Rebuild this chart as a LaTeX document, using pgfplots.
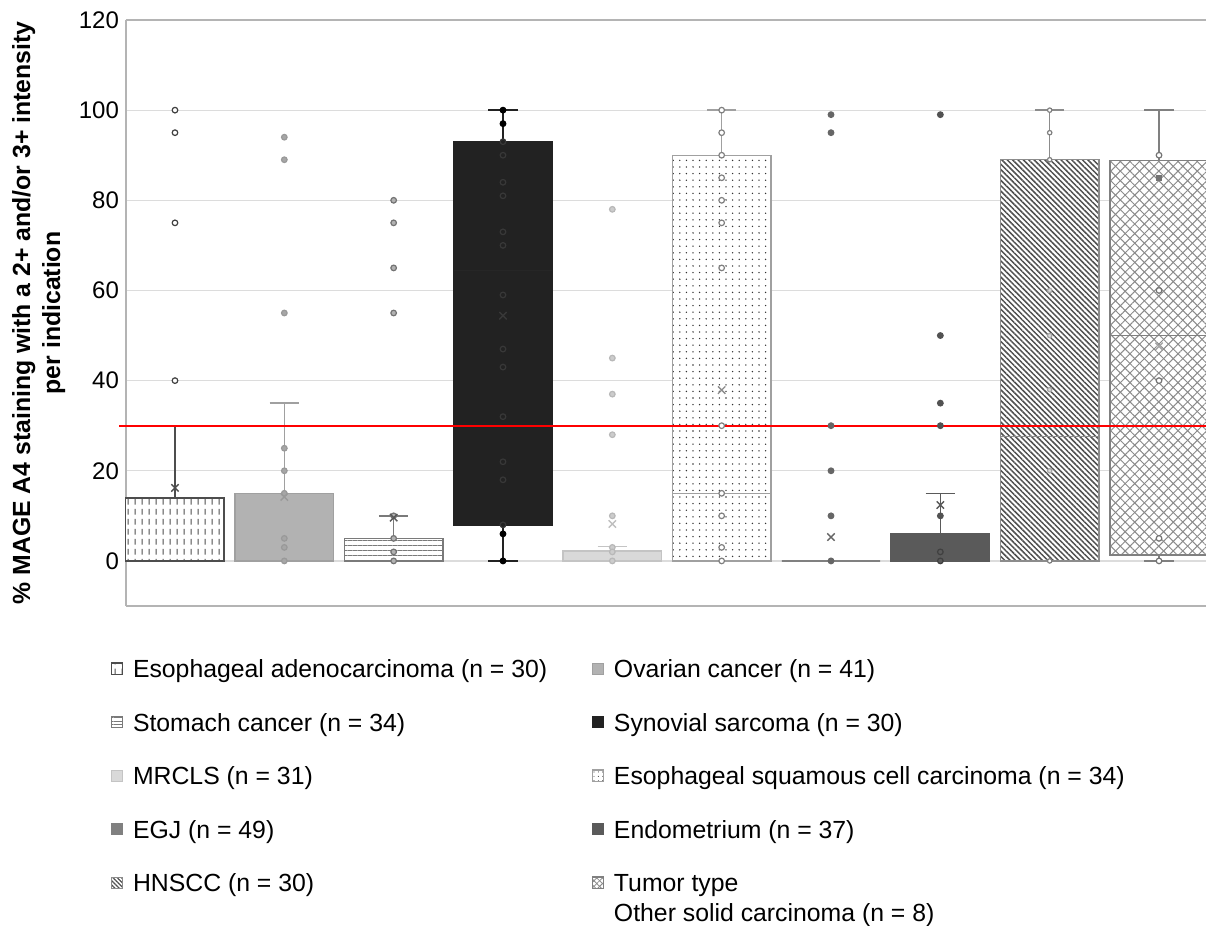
\documentclass[border=0pt]{standalone}
\usepackage{fontspec}
\setmainfont{Liberation Sans}
\usepackage{pgfplots}
\pgfplotsset{compat=1.18}
\usepgfplotslibrary{statistics}
\usetikzlibrary{patterns.meta}

\definecolor{axisgray}{HTML}{B4B4B4}
\definecolor{gridgray}{HTML}{DCDCDC}
\definecolor{cA}{HTML}{4D4D4D}
\definecolor{cB}{HTML}{B2B2B2}
\definecolor{cBd}{HTML}{A0A0A0}
\definecolor{cC}{HTML}{7A7A7A}
\definecolor{cD}{HTML}{222222}
\definecolor{cE}{HTML}{D9D9D9}
\definecolor{cEd}{HTML}{C4C4C4}
\definecolor{cF}{HTML}{A0A0A0}
\definecolor{cG}{HTML}{808080}
\definecolor{cH}{HTML}{5A5A5A}
\definecolor{cI}{HTML}{8C8C8C}
\definecolor{cIp}{HTML}{505050}
\definecolor{cJ}{HTML}{808080}
\definecolor{cJp}{HTML}{8A8A8A}

\pgfdeclarepattern{
  name=vdash,
  type=uncolored,
  bottom left={\pgfpoint{0pt}{0pt}},
  top right={\pgfpoint{3.3pt}{5pt}},
  tile size={\pgfpoint{3.3pt}{5pt}},
  code={
    \pgfsetlinewidth{0.6pt}
    \pgfpathmoveto{\pgfpoint{1.65pt}{0.8pt}}
    \pgfpathlineto{\pgfpoint{1.65pt}{3.8pt}}
    \pgfusepath{stroke}
  }
}

\pgfplotsset{
  pts/.style={only marks, mark=*, mark size=1.4pt, forget plot, line width=0.6pt},
  meanx/.style={only marks, mark=x, mark size=2.6pt, forget plot, line width=0.7pt},
  boxplot/draw direction=y,
}
\newcommand{\Lcol}[1]{\makebox[227.5pt][l]{\strut #1}}
\newcommand{\Rcol}[1]{\strut #1}

\begin{document}
\begin{tikzpicture}
\begin{axis}[
  name=ax,
  scale only axis, width=541pt, height=293pt,
  xmin=0.552, xmax=10.448, ymin=-10, ymax=120,
  axis x line*=box, axis y line*=left,
  axis line style={draw=axisgray, line width=0.8pt, -},
  xtick=\empty,
  ytick={0,20,40,60,80,100,120},
  major tick length=0pt,
  ymajorgrids, grid style={draw=gridgray, line width=0.6pt},
  yticklabel style={font=\fontsize{12}{14}\selectfont},
  /pgf/number format/assume math mode=true,
  ylabel={\% MAGE A4 staining with a 2+ and/or 3+ intensity\\per indication},
  ylabel style={font=\bfseries\fontsize{12.4}{15}\selectfont, align=center},
  clip=false,
  legend image code/.code={\draw[#1] (0pt,-2.8pt) rectangle (5.6pt,2.8pt);},
  legend columns=2,
  legend cell align=left,
  legend style={draw=none, fill=none, at={(0,0)}, anchor=north west,
    xshift=-7.5pt, yshift=-23.3pt, inner sep=0pt, outer sep=0pt,
    row sep=10.75pt, font=\fontsize{12.4}{15}\selectfont,
    /tikz/every even column/.append style={column sep=0pt},
    /tikz/every odd column/.append style={column sep=2.8pt}},
]
% ---- boxes ----
\addplot[draw=cA, line width=0.7pt, forget plot,
  boxplot prepared={draw position=1, lower whisker=0, lower quartile=0, median=0,
    upper quartile=14, upper whisker=30, box extend=0.9, whisker extend=0.27,
    every box/.style={fill=white, postaction={pattern=vdash, pattern color=cA}}}]
  coordinates {};
\addplot[draw=cBd, line width=0.7pt, forget plot,
  boxplot prepared={draw position=2, lower whisker=0, lower quartile=0, median=0,
    upper quartile=15, upper whisker=35, box extend=0.9, whisker extend=0.27,
    every box/.style={fill=cB}}]
  coordinates {};
\addplot[draw=cC, line width=0.7pt, forget plot,
  boxplot prepared={draw position=3, lower whisker=0, lower quartile=0, median=0,
    upper quartile=5, upper whisker=10, box extend=0.9, whisker extend=0.27,
    every box/.style={fill=white, postaction={pattern={Lines[angle=0, distance=2.5pt, line width=0.5pt]}, pattern color=cC}}}]
  coordinates {};
\addplot[draw=cD, line width=0.7pt, forget plot,
  boxplot prepared={draw position=4, lower whisker=0, lower quartile=8, median=64.5,
    upper quartile=93, upper whisker=100, box extend=0.9, whisker extend=0.27,
    every box/.style={fill=cD},
    every median/.style={draw=black!85, line width=0.5pt}}]
  coordinates {};
\addplot[draw=cEd, line width=0.7pt, forget plot,
  boxplot prepared={draw position=5, lower whisker=0, lower quartile=0, median=0,
    upper quartile=2.2, upper whisker=3.2, box extend=0.9, whisker extend=0.27,
    every box/.style={fill=cE}}]
  coordinates {};
\addplot[draw=cF, line width=0.7pt, forget plot,
  boxplot prepared={draw position=6, lower whisker=0, lower quartile=0, median=15,
    upper quartile=90, upper whisker=100, box extend=0.9, whisker extend=0.27,
    every box/.style={fill=white, postaction={pattern={Dots[distance=3.3pt, radius=0.38pt]}, pattern color=black!80}}}]
  coordinates {};
\addplot[draw=cG, line width=0.8pt, forget plot,
  boxplot prepared={draw position=7, lower whisker=0, lower quartile=0, median=0,
    upper quartile=0, upper whisker=0, box extend=0.9, whisker extend=0.27,
    every box/.style={fill=cG}}]
  coordinates {};
\addplot[draw=cH, line width=0.7pt, forget plot,
  boxplot prepared={draw position=8, lower whisker=0, lower quartile=0, median=0,
    upper quartile=6, upper whisker=15, box extend=0.9, whisker extend=0.27,
    every box/.style={fill=cH}}]
  coordinates {};
\addplot[draw=cI, line width=0.7pt, forget plot,
  boxplot prepared={draw position=9, lower whisker=0, lower quartile=0, median=27.6,
    upper quartile=89, upper whisker=100, box extend=0.9, whisker extend=0.27,
    every box/.style={fill=white, postaction={pattern={Lines[angle=-45, distance=1.9pt, line width=0.75pt]}, pattern color=cIp}}}]
  coordinates {};
\addplot[draw=cJ, line width=0.7pt, forget plot,
  boxplot prepared={draw position=10, lower whisker=0, lower quartile=1.3, median=50,
    upper quartile=88.8, upper whisker=100, box extend=0.9, whisker extend=0.27,
    every box/.style={fill=white, postaction={pattern={Lines[angle=45, distance=3.4pt, line width=0.5pt]}, pattern color=cJp},
      postaction={pattern={Lines[angle=-45, distance=3.4pt, line width=0.5pt]}, pattern color=cJp}}}]
  coordinates {};
% ---- threshold ----
\addplot[draw=red, line width=1pt, forget plot] coordinates {(0.49,30) (10.448,30)};
% ---- points ----
\addplot[pts, draw=black!75, fill=white] coordinates {(1,100) (1,95) (1,75) (1,40)};
\addplot[meanx, draw=black!70] coordinates {(1,16.2)};
\addplot[pts, draw=black!40, fill=black!35] coordinates {(2,94) (2,89) (2,55) (2,25) (2,20) (2,15) (2,5) (2,3) (2,0)};
\addplot[meanx, draw=black!40] coordinates {(2,14.2)};
\addplot[pts, draw=black!55, fill=black!30] coordinates {(3,80) (3,75) (3,65) (3,55) (3,10) (3,5) (3,2) (3,0)};
\addplot[meanx, draw=black!65] coordinates {(3,9.6)};
\addplot[pts, draw=black, fill=black] coordinates {(4,100) (4,97) (4,6) (4,0)};
\addplot[pts, draw=black!78, fill=cD] coordinates {(4,93) (4,90) (4,84) (4,81) (4,73) (4,70) (4,59) (4,47) (4,43) (4,32) (4,22) (4,18) (4,8)};
\addplot[meanx, draw=black!78] coordinates {(4,54.4)};
\addplot[pts, draw=black!28, fill=black!20] coordinates {(5,78) (5,45) (5,37) (5,28) (5,10) (5,3) (5,2) (5,0)};
\addplot[meanx, draw=black!25] coordinates {(5,8.2)};
\addplot[pts, draw=black!50, fill=white] coordinates {(6,100) (6,95) (6,90) (6,85) (6,80) (6,75) (6,65) (6,30) (6,15) (6,10) (6,3) (6,0)};
\addplot[meanx, draw=black!45] coordinates {(6,37.9)};
\addplot[pts, draw=black!60, fill=black!60] coordinates {(7,99) (7,95) (7,30) (7,20) (7,10) (7,0)};
\addplot[meanx, draw=black!60] coordinates {(7,5.3)};
\addplot[pts, draw=black!68, fill=black!68] coordinates {(8,99) (8,50) (8,35) (8,30) (8,10)};
\addplot[pts, draw=black!75, fill=cH] coordinates {(8,2) (8,0)};
\addplot[meanx, draw=black!65] coordinates {(8,12.4)};
\addplot[pts, draw=black!50, fill=white, mark size=1.1pt] coordinates {(9,100) (9,95) (9,89) (9,0)};
\addplot[pts, draw=black!35, fill=black!15, mark size=1.1pt] coordinates {(9,60) (9,50) (9,38) (9,20)};
\addplot[pts, draw=black!55, fill=white] coordinates {(10,90) (10,60) (10,40) (10,5) (10,0)};
\addplot[pts, draw=black!55, fill=black!55, mark=square*, mark size=1.2pt] coordinates {(10,85)};
\addplot[meanx, draw=black!35] coordinates {(10,47.6)};
% ---- legend ----
\addlegendimage{draw=cA, line width=0.6pt, fill=white, postaction={pattern=vdash, pattern color=cA}}
\addlegendentry{\Lcol{Esophageal adenocarcinoma (n = 30)}}
\addlegendimage{draw=cBd, fill=cB}
\addlegendentry{\Rcol{Ovarian cancer (n = 41)}}
\addlegendimage{draw=cC, line width=0.6pt, fill=white, postaction={pattern={Lines[angle=0, distance=1.6pt, line width=0.5pt]}, pattern color=cC}}
\addlegendentry{\Lcol{Stomach cancer (n = 34)}}
\addlegendimage{draw=cD, fill=cD}
\addlegendentry{\Rcol{Synovial sarcoma (n = 30)}}
\addlegendimage{draw=cEd, fill=cE}
\addlegendentry{\Lcol{MRCLS (n = 31)}}
\addlegendimage{draw=cF, line width=0.6pt, fill=white, postaction={pattern={Dots[distance=2.2pt, radius=0.3pt]}, pattern color=black!70}}
\addlegendentry{\Rcol{Esophageal squamous cell carcinoma (n = 34)}}
\addlegendimage{draw=cG, fill=cG}
\addlegendentry{\Lcol{EGJ (n = 49)}}
\addlegendimage{draw=cH, fill=cH}
\addlegendentry{\Rcol{Endometrium (n = 37)}}
\addlegendimage{draw=cI, fill=white, postaction={pattern={Lines[angle=-45, distance=1.5pt, line width=0.6pt]}, pattern color=cIp}}
\addlegendentry{\Lcol{HNSCC (n = 30)}}
\addlegendimage{draw=cJ, line width=0.6pt, fill=white, postaction={pattern={Lines[angle=45, distance=2pt, line width=0.4pt]}, pattern color=cJp}, postaction={pattern={Lines[angle=-45, distance=2pt, line width=0.4pt]}, pattern color=cJp}}
\addlegendentry{\Rcol{\begin{tabular}[t]{@{}l@{}}Tumor type\\Other solid carcinoma (n = 8)\end{tabular}}}
\end{axis}
\pgfresetboundingbox
\path ([xshift=-63pt,yshift=-160pt]ax.south west) rectangle ([xshift=540pt,yshift=10pt]ax.north west);
\end{tikzpicture}
\end{document}
